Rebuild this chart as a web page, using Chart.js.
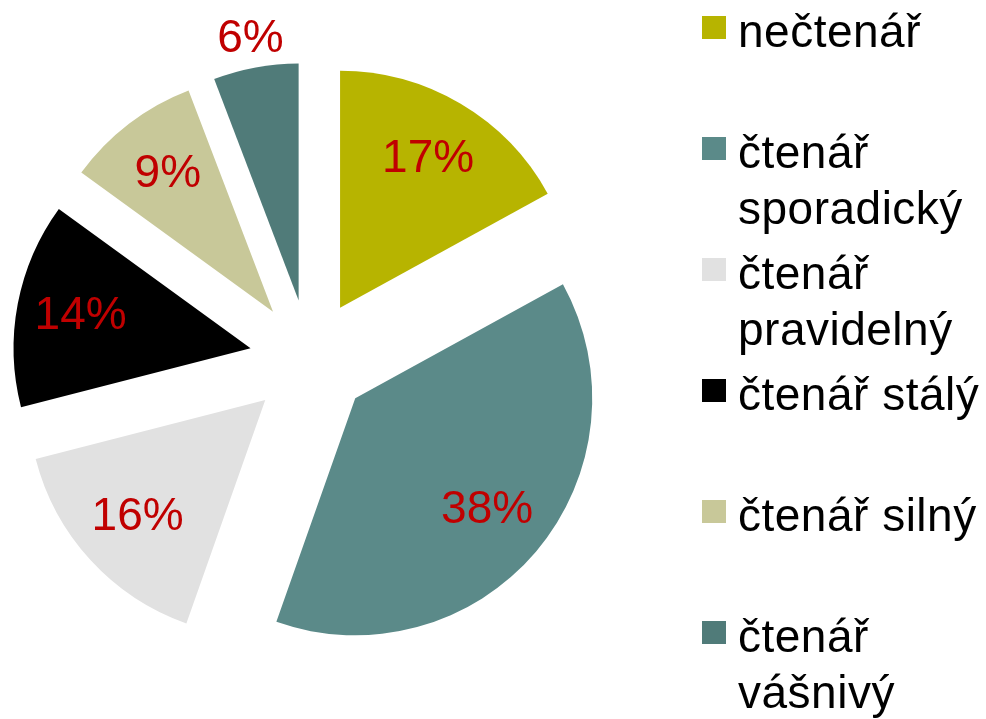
<!DOCTYPE html>
<html>
<head>
<meta charset="utf-8">
<script src="https://cdn.jsdelivr.net/npm/chart.js@4"></script>
<style>
html, body { margin: 0; padding: 0; background: #fff; }
#wrap { position: relative; width: 986px; height: 719px; overflow: hidden; }
#pie { position: absolute; left: 0; top: 0; }
#legend { position: absolute; left: 702px; top: 3px; margin: 0; padding: 0; list-style: none;
  font-family: "Liberation Sans", Arial, sans-serif; font-size: 46px; line-height: 56px;
  letter-spacing: 0.5px; color: #000; }
#legend li { position: relative; height: 121px; width: 250px; padding-left: 36px; }
#legend li span { position: absolute; left: 0; top: 13px; width: 24px; height: 23px; }
</style>
</head>
<body>
<div id="wrap">
  <canvas id="pie" width="986" height="719"></canvas>
  <ul id="legend"></ul>
</div>
<script>
var categories = ['nečtenář', 'čtenář sporadický', 'čtenář pravidelný', 'čtenář stálý', 'čtenář silný', 'čtenář vášnivý'];
var shares = [17.0, 38.4, 15.6, 14.0, 9.2, 5.8];
var colors = ['#b7b400', '#5b8a89', '#e1e1e1', '#000000', '#c8c899', '#507b79'];

var explodeGap = 60;

// draw every slice pushed out along its middle angle
var explodePlugin = {
  id: 'explode',
  beforeDatasetDraw: function(chart, args) {
    var ctx = chart.ctx;
    args.meta.data.forEach(function(arc) {
      var mid = (arc.startAngle + arc.endAngle) / 2;
      ctx.save();
      ctx.translate(Math.cos(mid) * explodeGap, Math.sin(mid) * explodeGap);
      arc.draw(ctx);
      ctx.restore();
    });
    return false;
  }
};

var labelPlugin = {
  id: 'sliceLabels',
  afterDatasetsDraw: function(chart) {
    var ctx = chart.ctx;
    var meta = chart.getDatasetMeta(0);
    ctx.save();
    ctx.font = '46px "Liberation Sans", Arial, sans-serif';
    ctx.fillStyle = '#c00000';
    ctx.textAlign = 'center';
    ctx.textBaseline = 'middle';
    meta.data.forEach(function(arc, i) {
      var mid = (arc.startAngle + arc.endAngle) / 2;
      var small = (arc.endAngle - arc.startAngle) < 0.5;
      var d = explodeGap + (small ? arc.outerRadius + 29 : arc.outerRadius * 0.73);
      ctx.fillText(Math.round(shares[i]) + '%', arc.x + Math.cos(mid) * d, arc.y + Math.sin(mid) * d);
    });
    ctx.restore();
  }
};

var chart = new Chart(document.getElementById('pie'), {
  type: 'pie',
  data: {
    labels: categories,
    datasets: [{
      data: shares,
      backgroundColor: colors,
      borderWidth: 0
    }]
  },
  options: {
    responsive: false,
    animation: false,
    radius: 237,
    layout: { padding: { left: 0, right: 367, top: 0, bottom: 0 } },
    plugins: {
      legend: { display: false },
      tooltip: { enabled: false }
    }
  },
  plugins: [explodePlugin, labelPlugin]
});

// legend on the right, built from the chart's own data
var ul = document.getElementById('legend');
chart.data.labels.forEach(function(label, i) {
  var li = document.createElement('li');
  var box = document.createElement('span');
  box.style.background = chart.data.datasets[0].backgroundColor[i];
  li.appendChild(box);
  li.appendChild(document.createTextNode(label));
  ul.appendChild(li);
});
</script>
</body>
</html>
